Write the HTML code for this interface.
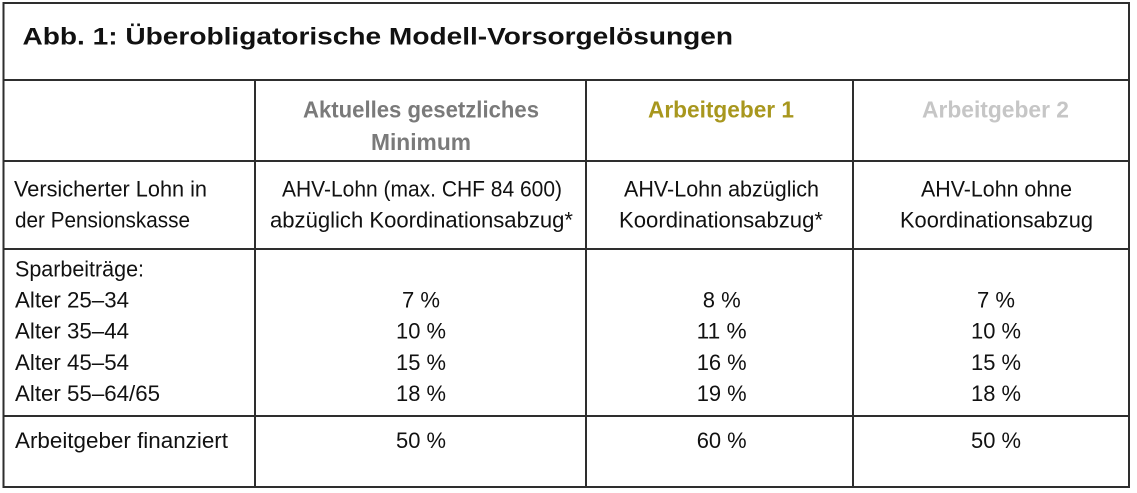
<!DOCTYPE html>
<html>
<head>
<meta charset="utf-8">
<style>
html,body{margin:0;padding:0;background:#fff;}
svg{display:block;}
text{font-family:"Liberation Sans",sans-serif;}
.t{font-size:24px;font-weight:bold;fill:#111;}
.h{font-size:23.5px;font-weight:bold;}
.b{font-size:22.5px;fill:#111;}
</style>
</head>
<body>
<svg width="1137" height="493" viewBox="0 0 1137 493" xmlns="http://www.w3.org/2000/svg">
<rect x="0" y="0" width="1137" height="493" fill="#fff"/>
<g stroke="#2e2e2e" stroke-width="2" fill="none">
<rect x="3.5" y="3" width="1125.5" height="484"/>
<line x1="3.5" y1="80" x2="1129" y2="80"/>
<line x1="3.5" y1="161" x2="1129" y2="161"/>
<line x1="3.5" y1="249" x2="1129" y2="249"/>
<line x1="3.5" y1="416" x2="1129" y2="416"/>
<line x1="255" y1="80" x2="255" y2="487"/>
<line x1="586" y1="80" x2="586" y2="487"/>
<line x1="853" y1="80" x2="853" y2="487"/>
</g>

<text class="t" x="22.5" y="44.5" textLength="710.5" lengthAdjust="spacingAndGlyphs">Abb. 1: Überobligatorische Modell-Vorsorgelösungen</text>

<text class="h" x="303" y="117.5" textLength="236" lengthAdjust="spacingAndGlyphs" fill="#7a7a7a">Aktuelles gesetzliches</text>
<text class="h" x="371" y="150" textLength="100" lengthAdjust="spacingAndGlyphs" fill="#7a7a7a">Minimum</text>
<text class="h" x="648" y="117.5" textLength="146" lengthAdjust="spacingAndGlyphs" fill="#a8971e">Arbeitgeber 1</text>
<text class="h" x="922" y="117.5" textLength="147" lengthAdjust="spacingAndGlyphs" fill="#c6c6c6">Arbeitgeber 2</text>

<text class="b" x="14" y="196.5" textLength="193" lengthAdjust="spacingAndGlyphs">Versicherter Lohn in</text>
<text class="b" x="15" y="227.5" textLength="175" lengthAdjust="spacingAndGlyphs">der Pensionskasse</text>
<text class="b" x="282" y="196.5" textLength="280" lengthAdjust="spacingAndGlyphs">AHV-Lohn (max. CHF 84 600)</text>
<text class="b" x="270" y="227.5" textLength="303" lengthAdjust="spacingAndGlyphs">abzüglich Koordinationsabzug*</text>
<text class="b" x="624" y="196.5" textLength="195" lengthAdjust="spacingAndGlyphs">AHV-Lohn abzüglich</text>
<text class="b" x="619" y="227.5" textLength="204" lengthAdjust="spacingAndGlyphs">Koordinationsabzug*</text>
<text class="b" x="921" y="196.5" textLength="151" lengthAdjust="spacingAndGlyphs">AHV-Lohn ohne</text>
<text class="b" x="900" y="227.5" textLength="193" lengthAdjust="spacingAndGlyphs">Koordinationsabzug</text>

<text class="b" x="15" y="276.5" textLength="129" lengthAdjust="spacingAndGlyphs">Sparbeiträge:</text>
<text class="b" x="15" y="307.5" textLength="114" lengthAdjust="spacingAndGlyphs">Alter 25–34</text>
<text class="b" x="15" y="338.7" textLength="114" lengthAdjust="spacingAndGlyphs">Alter 35–44</text>
<text class="b" x="15" y="370" textLength="114" lengthAdjust="spacingAndGlyphs">Alter 45–54</text>
<text class="b" x="15" y="401.2" textLength="145" lengthAdjust="spacingAndGlyphs">Alter 55–64/65</text>
<text class="b" x="15" y="448" textLength="213" lengthAdjust="spacingAndGlyphs">Arbeitgeber finanziert</text>

<g text-anchor="middle">
<text class="b" x="421" y="307.5" textLength="38" lengthAdjust="spacingAndGlyphs">7 %</text>
<text class="b" x="421" y="338.7" textLength="50" lengthAdjust="spacingAndGlyphs">10 %</text>
<text class="b" x="421" y="370" textLength="50" lengthAdjust="spacingAndGlyphs">15 %</text>
<text class="b" x="421" y="401.2" textLength="50" lengthAdjust="spacingAndGlyphs">18 %</text>
<text class="b" x="421" y="448" textLength="50" lengthAdjust="spacingAndGlyphs">50 %</text>

<text class="b" x="721.7" y="307.5" textLength="38" lengthAdjust="spacingAndGlyphs">8 %</text>
<text class="b" x="721.7" y="338.7" textLength="50" lengthAdjust="spacingAndGlyphs">11 %</text>
<text class="b" x="721.7" y="370" textLength="50" lengthAdjust="spacingAndGlyphs">16 %</text>
<text class="b" x="721.7" y="401.2" textLength="50" lengthAdjust="spacingAndGlyphs">19 %</text>
<text class="b" x="721.7" y="448" textLength="50" lengthAdjust="spacingAndGlyphs">60 %</text>

<text class="b" x="996" y="307.5" textLength="38" lengthAdjust="spacingAndGlyphs">7 %</text>
<text class="b" x="996" y="338.7" textLength="50" lengthAdjust="spacingAndGlyphs">10 %</text>
<text class="b" x="996" y="370" textLength="50" lengthAdjust="spacingAndGlyphs">15 %</text>
<text class="b" x="996" y="401.2" textLength="50" lengthAdjust="spacingAndGlyphs">18 %</text>
<text class="b" x="996" y="448" textLength="50" lengthAdjust="spacingAndGlyphs">50 %</text>
</g>
</svg>
</body>
</html>
